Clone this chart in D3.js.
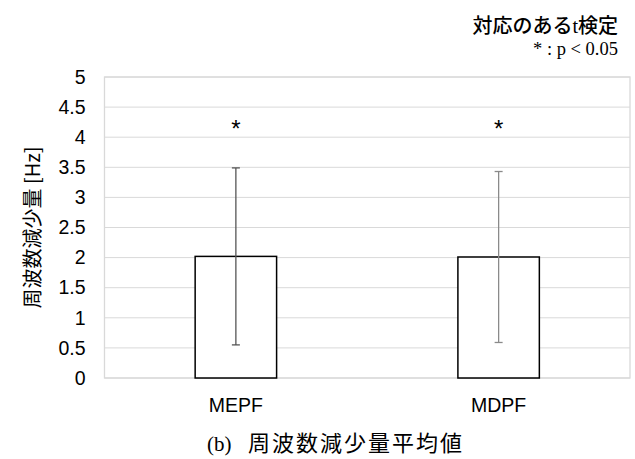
<!DOCTYPE html>
<html>
<head>
<meta charset="utf-8">
<script src="https://cdn.jsdelivr.net/npm/d3@7"></script>
<style>
  body { margin: 0; background: #fff; }
  svg text { fill: #000; }
</style>
</head>
<body>
<div id="chart"></div>
<script>
// mean frequency decrease with sd error bars

const categories = ['MEPF', 'MDPF'];
const means = [2.02, 2.01];
const sds = [1.47, 1.42];
const marks = ['*', '*'];
const yTicks = [0, 0.5, 1, 1.5, 2, 2.5, 3, 3.5, 4, 4.5, 5];
const yTitle = '周波数減少量 [Hz]';
const caption = ['(b)', '周波数減少量平均値'];
const noteTitle = ['対応のある', 't', '検定'];
const noteText = '* : p < 0.05';

const W = 635, H = 459;
const margin = {top: 77, right: 5, bottom: 81, left: 104.5};
const width = W - margin.left - margin.right;
const height = H - margin.top - margin.bottom;

const svg = d3.select('#chart').append('svg')
    .attr('width', W)
    .attr('height', H);

const g = svg.append('g')
    .attr('transform', `translate(${margin.left}, ${margin.top})`);

// scales
const x = d3.scaleBand()
    .domain(categories)
    .range([0, width])
    .paddingInner(0.69)
    .paddingOuter(0.345);

const y = d3.scaleLinear()
    .domain([0, 5])
    .range([height, 0]);

// gridlines
g.selectAll('.grid')
    .data(yTicks)
    .enter()
    .append('line')
    .attr('class', 'grid')
    .attr('x1', 0)
    .attr('x2', width)
    .attr('y1', d => y(d))
    .attr('y2', d => y(d))
    .attr('stroke', '#d9d9d9')
    .attr('stroke-width', 1);

// plot border
g.append('rect')
    .attr('x', 0)
    .attr('y', 0)
    .attr('width', width)
    .attr('height', height)
    .attr('fill', 'none')
    .attr('stroke', '#d9d9d9')
    .attr('stroke-width', 1.3);

// y axis (labels only)
const yAxis = d3.axisLeft(y)
    .tickValues(yTicks)
    .tickSize(0)
    .tickPadding(19)
    .tickFormat(d => d);

const yg = g.append('g').call(yAxis);
yg.select('.domain').remove();
yg.selectAll('text')
    .style('font-family', '"Liberation Sans", Arial, sans-serif')
    .style('font-size', '19.5px')
    .style('fill', '#000');

// x axis (labels only)
const xAxis = d3.axisBottom(x)
    .tickSize(0)
    .tickPadding(20);

const xg = g.append('g')
    .attr('transform', `translate(0, ${height})`)
    .call(xAxis);
xg.select('.domain').remove();
xg.selectAll('text')
    .style('font-family', '"Liberation Sans", Arial, sans-serif')
    .style('font-size', '19.5px')
    .style('fill', '#000');

// bars
const data = categories.map((c, i) => ({cat: c, mean: means[i], sd: sds[i], mark: marks[i]}));

g.selectAll('.bar')
    .data(data)
    .enter()
    .append('rect')
    .attr('class', 'bar')
    .attr('x', d => x(d.cat))
    .attr('y', d => y(d.mean))
    .attr('width', x.bandwidth())
    .attr('height', d => height - y(d.mean))
    .attr('fill', '#fff')
    .attr('stroke', '#000')
    .attr('stroke-width', 1.5);

// error bars
const errColors = ['#555555', '#8a8a8a'];
const cx = d => x(d.cat) + x.bandwidth() / 2;
const err = g.selectAll('.err')
    .data(data)
    .enter()
    .append('g')
    .attr('class', 'err')
    .attr('stroke', (d, i) => errColors[i])
    .attr('stroke-width', 1.3);

err.append('line')
    .attr('x1', cx).attr('x2', cx)
    .attr('y1', d => y(d.mean + d.sd))
    .attr('y2', d => y(d.mean - d.sd));

err.append('line')
    .attr('x1', d => cx(d) - 4).attr('x2', d => cx(d) + 4)
    .attr('y1', d => y(d.mean + d.sd))
    .attr('y2', d => y(d.mean + d.sd));

err.append('line')
    .attr('x1', d => cx(d) - 4).attr('x2', d => cx(d) + 4)
    .attr('y1', d => y(d.mean - d.sd))
    .attr('y2', d => y(d.mean - d.sd));

// significance marks
g.selectAll('.mark')
    .data(data)
    .enter()
    .append('text')
    .attr('class', 'mark')
    .attr('x', cx)
    .attr('y', y(4.0))
    .attr('text-anchor', 'middle')
    .style('font-family', '"Liberation Sans", Arial, sans-serif')
    .style('font-size', '24px')
    .text(d => d.mark);

// y axis title
svg.append('text')
    .attr('transform', `translate(40, ${margin.top + height / 2}) rotate(-90)`)
    .attr('text-anchor', 'middle')
    .style('font-family', '"Noto Sans CJK JP", sans-serif')
    .style('font-size', '20px')
    .text(yTitle);

// note at top right
const note = svg.append('text')
    .attr('x', 618)
    .attr('y', 33)
    .attr('text-anchor', 'end')
    .style('font-family', '"Noto Sans CJK JP", sans-serif')
    .style('font-size', '20px')
    .style('font-weight', 500);
note.append('tspan').text(noteTitle[0]);
note.append('tspan').style('font-family', '"Liberation Serif", serif').style('font-weight', 400).text(noteTitle[1]);
note.append('tspan').text(noteTitle[2]);

svg.append('text')
    .attr('x', 618)
    .attr('y', 55)
    .attr('text-anchor', 'end')
    .style('font-family', '"Liberation Serif", "Times New Roman", serif')
    .style('font-size', '18.5px')
    .text(noteText);

// caption
svg.append('text')
    .attr('x', 207)
    .attr('y', 451)
    .style('font-family', '"Liberation Serif", serif')
    .style('font-size', '21px')
    .text(caption[0]);

svg.append('text')
    .attr('x', 248)
    .attr('y', 451)
    .style('font-family', '"Noto Sans CJK JP", sans-serif')
    .style('font-size', '22px')
    .style('letter-spacing', '2px')
    .text(caption[1]);
</script>
</body>
</html>
